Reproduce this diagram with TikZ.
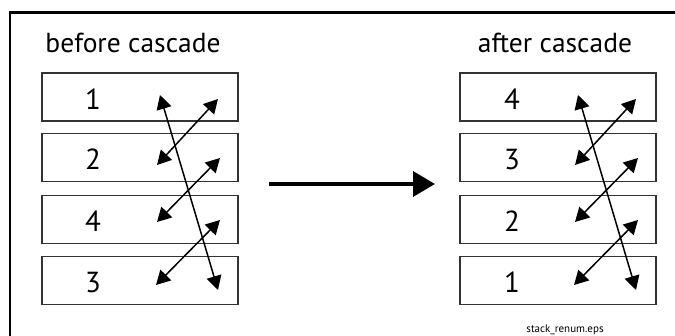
\documentclass[tikz,border=0pt]{standalone}
\usepackage{fontspec}
\setmainfont{PT Sans}
\usetikzlibrary{arrows.meta}
\begin{document}
\begin{tikzpicture}[x=1pt,y=-1pt,
  stackbox/.style={draw=black!80,line width=1.8pt,minimum width=196pt,minimum height=48pt,inner sep=0pt},
  numlab/.style={font=\fontsize{29}{29}\selectfont,inner sep=0pt,anchor=center},
  ttl/.style={font=\fontsize{27.5}{27.5}\selectfont,inner sep=0pt,anchor=base},
  swap/.style={line width=1.5pt,{Triangle[length=14pt,width=15pt]}-{Triangle[length=14pt,width=15pt]}}]
\useasboundingbox (0,0) rectangle (675,335);
\clip (0,0) rectangle (675,335);
% frame
\draw[line width=2.7pt] (10,350) -- (10,12.5) -- (700,12.5);
% titles
\node[ttl] (tb) at (133,52) {before cascade};
\node[ttl] (ta) at (555,52) {after cascade};
% left stack
\node[stackbox] (L1) at (140,97) {};
\node[stackbox] (L2) at (140,157.5) {};
\node[stackbox] (L3) at (140,219.5) {};
\node[stackbox] (L4) at (140,280.5) {};
\node[numlab] (l1) at (93,99) {1};
\node[numlab] (l2) at (93,159.5) {2};
\node[numlab] (l3) at (93,221.5) {4};
\node[numlab] (l4) at (93,282.5) {3};
% right stack
\node[stackbox] (R1) at (558,97) {};
\node[stackbox] (R2) at (558,157.5) {};
\node[stackbox] (R3) at (558,219.5) {};
\node[stackbox] (R4) at (558,280.5) {};
\node[numlab] (r1) at (512,99) {4};
\node[numlab] (r2) at (512,159.5) {3};
\node[numlab] (r3) at (512,221.5) {2};
\node[numlab] (r4) at (512,282.5) {1};
% left arrows
\coordinate (La) at (160,95); \coordinate (Lb) at (218,290);
\coordinate (Lc) at (218,99); \coordinate (Ld) at (157,165);
\coordinate (Le) at (220,158); \coordinate (Lf) at (157,222);
\coordinate (Lg) at (220,220); \coordinate (Lh) at (156,285);
\draw[swap] (La) -- (Lb);
\draw[swap] (Lc) -- (Ld);
\draw[swap] (Le) -- (Lf);
\draw[swap] (Lg) -- (Lh);
% right arrows
\coordinate (Ra) at (578,95); \coordinate (Rb) at (636,290);
\coordinate (Rc) at (636,99); \coordinate (Rd) at (575,165);
\coordinate (Re) at (638,158); \coordinate (Rf) at (575,222);
\coordinate (Rg) at (638,220); \coordinate (Rh) at (574,285);
\draw[swap] (Ra) -- (Rb);
\draw[swap] (Rc) -- (Rd);
\draw[swap] (Re) -- (Rf);
\draw[swap] (Rg) -- (Rh);
% middle arrow
\coordinate (ma) at (269,184); \coordinate (mb) at (435,184);
\draw[line width=3.5pt,-{Triangle[length=22pt,width=25pt]}] (ma) -- (mb);
% file name
\node[font=\fontsize{11}{11}\selectfont,inner sep=0pt,anchor=base] (fn) at (565,332) {stack\_renum.eps};
\end{tikzpicture}
\end{document}
